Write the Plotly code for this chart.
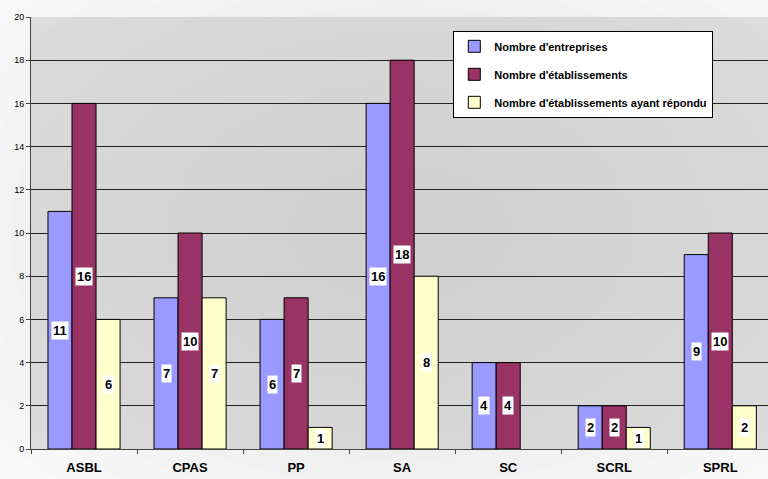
import plotly.graph_objects as go

categories = ["ASBL", "CPAS", "PP", "SA", "SC", "SCRL", "SPRL"]
entreprises = [11, 7, 6, 16, 4, 2, 9]
etablissements = [16, 10, 7, 18, 4, 2, 10]
repondu = [6, 7, 1, 8, 0, 1, 2]
series_names = ["Nombre d'entreprises", "Nombre d'établissements",
                "Nombre d'établissements ayant répondu"]
colors = ["#9999FF", "#993366", "#FFFFCC"]
y_ticks = list(range(0, 21, 2))

FONT = "Liberation Sans, Arial, sans-serif"
series = [entreprises, etablissements, repondu]
bargap = 0.32
w = (1 - bargap) / 3

fig = go.Figure()
for k, (name, vals, col) in enumerate(zip(series_names, series, colors)):
    fig.add_trace(go.Bar(
        x=categories, y=vals, name=name, legendgroup=name,
        marker=dict(color=col,
                    line=dict(color="black",
                              width=[1 if v > 0 else 0 for v in vals])),
    ))

annotations = []
for k, vals in enumerate(series):
    for i, v in enumerate(vals):
        if v <= 0:
            continue
        annotations.append(dict(
            x=i + (k - 1) * w, y=v / 2, xref="x", yref="y",
            text=str(v), showarrow=False, bgcolor="white",
            borderpad=1,
            font=dict(family=FONT, size=13, color="black", weight="bold"),
        ))

# radial gradient background approximation (darker centre)
shapes = []
n = 14
for j in range(n):
    f = j / n
    shapes.append(dict(
        type="circle", xref="x domain", yref="y domain",
        x0=-0.35 + 0.75 * f, x1=1.35 - 0.75 * f,
        y0=-0.45 + 0.85 * f, y1=1.45 - 0.85 * f,
        fillcolor="#a8a8a8", opacity=0.028, line=dict(width=0),
        layer="below",
    ))

fig.update_layout(
    width=768, height=479,
    margin=dict(l=31, r=0, t=17, b=30),
    paper_bgcolor="white", plot_bgcolor="#e4e4e4",
    barmode="group", bargap=bargap, bargroupgap=0,
    font=dict(family=FONT, color="black"),
    showlegend=True,
    legend=dict(
        x=0.573, y=0.968, xanchor="left", yanchor="top",
        bgcolor="white", bordercolor="black", borderwidth=1,
        font=dict(family=FONT, size=11, color="black", weight="bold"),
        tracegroupgap=9, traceorder="grouped",
        itemwidth=30,
    ),
    xaxis=dict(
        type="category", range=[-0.5, 6.45],
        tickson="boundaries", ticks="outside", ticklen=4,
        tickcolor="#444", showgrid=False,
        showline=True, linecolor="#444", linewidth=1,
        ticklabelstandoff=6,
        tickfont=dict(family=FONT, size=13, color="black", weight="bold"),
    ),
    yaxis=dict(
        range=[0, 20], tickvals=y_ticks, ticks="outside", ticklen=4,
        tickcolor="#444", showgrid=True, gridcolor="#222", gridwidth=1,
        showline=True, linecolor="#444", linewidth=1, zeroline=False,
        tickfont=dict(family=FONT, size=9, color="black"),
    ),
    annotations=annotations,
    shapes=shapes,
)

fig.write_html(
    "out.html",
    config={"displayModeBar": False},
    post_script="document.body.style.margin='0';document.body.style.padding='0';",
)
